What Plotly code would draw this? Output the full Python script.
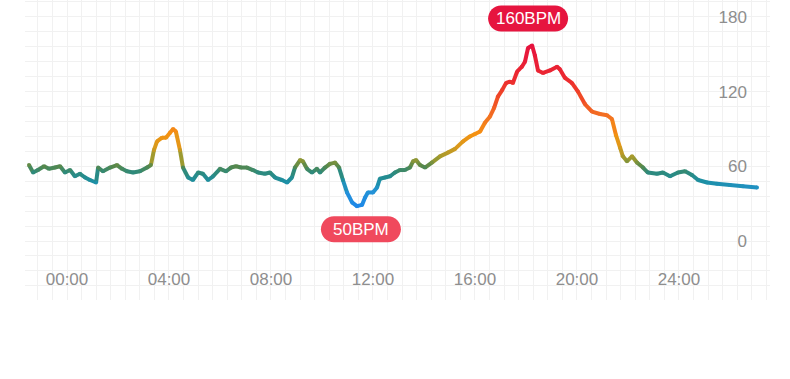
import plotly.graph_objects as go

# ---- data ----
hours = [-1.49, -1.33, -1.14, -0.90, -0.71, -0.47, -0.27, -0.08, 0.12, 0.31,
         0.51, 0.71, 0.90, 1.14, 1.22, 1.41, 1.69, 1.96, 2.16, 2.35,
         2.59, 2.86, 3.14, 3.29, 3.41, 3.53, 3.73, 3.88, 4.04, 4.16,
         4.27, 4.43, 4.55, 4.75, 4.94, 5.14, 5.33, 5.53, 5.73, 6.00,
         6.24, 6.43, 6.63, 6.82, 7.06, 7.29, 7.49, 7.76, 7.96, 8.16,
         8.43, 8.63, 8.82, 8.94, 9.14, 9.25, 9.41, 9.61, 9.80, 9.92,
         10.12, 10.31, 10.51, 10.67, 10.82, 10.98, 11.18, 11.37, 11.57, 11.69,
         11.80, 12.00, 12.16, 12.27, 12.47, 12.67, 12.86, 13.06, 13.25, 13.45,
         13.57, 13.69, 13.84, 14.04, 14.31, 14.63, 14.94, 15.22, 15.53, 15.80,
         16.00, 16.20, 16.39, 16.59, 16.75, 16.90, 17.06, 17.22, 17.37, 17.49,
         17.65, 17.84, 17.96, 18.08, 18.24, 18.35, 18.47, 18.67, 18.94, 19.22,
         19.33, 19.53, 19.80, 20.04, 20.31, 20.59, 20.90, 21.18, 21.37, 21.53,
         21.69, 21.80, 21.96, 22.16, 22.35, 22.59, 22.78, 23.14, 23.37, 23.65,
         23.96, 24.24, 24.51, 24.75, 25.10, 25.49, 26.00, 26.51, 27.06]

bpm = [61, 55, 57, 60, 58, 59, 60, 55, 57, 52,
       54, 51, 49, 47, 59, 56, 59, 61, 58, 56,
       55, 56, 59, 61, 73, 80, 83, 83, 87, 90,
       88, 73, 59, 51, 49, 55, 54, 49, 52, 58,
       56, 59, 60, 59, 59, 57, 55, 54, 55, 51,
       49, 47, 51, 59, 65, 64, 58, 55, 58, 55,
       59, 62, 63, 59, 49, 39, 31, 28, 29, 35,
       39, 39, 43, 50, 51, 52, 55, 57, 57, 59,
       64, 65, 61, 59, 63, 68, 71, 74, 80, 84,
       86, 88, 95, 100, 107, 116, 121, 127, 128, 127,
       136, 140, 144, 155, 157, 149, 137, 135, 137, 140,
       138, 131, 127, 120, 110, 104, 102, 101, 98, 85,
       75, 68, 64, 68, 63, 59, 55, 54, 55, 52,
       55, 56, 53, 49, 47, 46, 45, 44, 43]

x_tick_vals = [0, 4, 8, 12, 16, 20, 24]
x_tick_text = ["00:00", "04:00", "08:00", "12:00", "16:00", "20:00", "24:00"]
y_tick_vals = [0, 60, 120, 180]
y_tick_text = ["0", "60", "120", "180"]
peak_label = "160BPM"
low_label = "50BPM"

# ---- styling ----
GRID = "#f1f1f1"
TICK_FONT = dict(family="Liberation Sans, Arial, sans-serif", size=17, color="#8e8e8e")
color_stops = [(28, "#1e88e8"), (40, "#2393d6"), (48, "#1d8fa3"), (55, "#2e8a7c"),
               (60, "#56884c"), (66, "#9c9a30"), (76, "#d99a1c"), (86, "#f59212"),
               (100, "#f37222"), (115, "#f04a26"), (130, "#ec2b30"), (157, "#e6123e")]


def hex2rgb(h):
    h = h.lstrip("#")
    return tuple(int(h[i:i + 2], 16) for i in (0, 2, 4))


def color_at(v):
    if v <= color_stops[0][0]:
        return color_stops[0][1]
    for (v0, c0), (v1, c1) in zip(color_stops[:-1], color_stops[1:]):
        if v0 <= v <= v1:
            t = (v - v0) / (v1 - v0)
            a, b = hex2rgb(c0), hex2rgb(c1)
            r = [round(a[k] + (b[k] - a[k]) * t) for k in range(3)]
            return "rgb(%d,%d,%d)" % tuple(r)
    return color_stops[-1][1]


fig = go.Figure()
for i in range(len(hours) - 1):
    fig.add_trace(go.Scatter(
        x=[hours[i], hours[i + 1]], y=[bpm[i], bpm[i + 1]], mode="lines",
        line=dict(color=color_at((bpm[i] + bpm[i + 1]) / 2), width=4),
        hoverinfo="skip", showlegend=False))
fig.add_trace(go.Scatter(
    x=hours, y=bpm, mode="markers",
    marker=dict(size=4, color=[color_at(v) for v in bpm], line=dict(width=0)),
    hoverinfo="skip", showlegend=False))


def pill_path(cx, cy, w, h):
    r = h / 2.0
    k = 0.5523 * r
    x0, x1 = cx - w / 2.0, cx + w / 2.0
    y0, y1 = cy - h / 2.0, cy + h / 2.0
    return (f"M {x0 + r},{y0} L {x1 - r},{y0} "
            f"C {x1 - r + k},{y0} {x1},{cy - k} {x1},{cy} "
            f"C {x1},{cy + k} {x1 - r + k},{y1} {x1 - r},{y1} "
            f"L {x0 + r},{y1} "
            f"C {x0 + r - k},{y1} {x0},{cy + k} {x0},{cy} "
            f"C {x0},{cy - k} {x0 + r - k},{y0} {x0 + r},{y0} Z")


i_max = bpm.index(max(bpm))
i_min = bpm.index(min(bpm))
labels = [(i_max, peak_label, -4, 27, "#e6153f"),
          (i_min, low_label, 4, -23, "#f0495d")]
for idx, txt, dx, dy, col in labels:
    fig.add_shape(type="path", xref="x", yref="y",
                  xsizemode="pixel", ysizemode="pixel",
                  xanchor=hours[idx], yanchor=bpm[idx],
                  path=pill_path(dx, dy, 80, 26),
                  fillcolor=col, line=dict(width=0), layer="above")
    fig.add_annotation(x=hours[idx], y=bpm[idx], xref="x", yref="y",
                       xshift=dx, yshift=dy, text=txt, showarrow=False,
                       font=dict(family="Liberation Sans, Arial, sans-serif",
                                 size=17, color="white"))

fig.update_layout(
    width=790, height=379,
    margin=dict(l=25, r=20, t=0, b=79),
    paper_bgcolor="white", plot_bgcolor="white",
    showlegend=False,
    xaxis=dict(range=[-1.647, 27.57], tickmode="array",
               tickvals=x_tick_vals, ticktext=x_tick_text,
               showgrid=True, gridcolor=GRID, gridwidth=1,
               zeroline=False, showline=False, ticks="",
               anchor="free", position=0.11, tickfont=TICK_FONT,
               minor=dict(tickmode="linear", tick0=0, dtick=4 / 7,
                          showgrid=True, gridcolor=GRID, gridwidth=1)),
    yaxis=dict(range=[-47.4, 193.6], tickmode="array",
               tickvals=y_tick_vals, ticktext=y_tick_text,
               showgrid=True, gridcolor=GRID, gridwidth=1,
               zeroline=False, showline=False, ticks="",
               side="left", anchor="free", position=0.969,
               tickfont=TICK_FONT,
               minor=dict(tickmode="linear", tick0=0, dtick=12,
                          showgrid=True, gridcolor=GRID, gridwidth=1)),
)

fig.write_html("out.html", config={"displayModeBar": False},
               post_script="document.body.style.margin='0';")
